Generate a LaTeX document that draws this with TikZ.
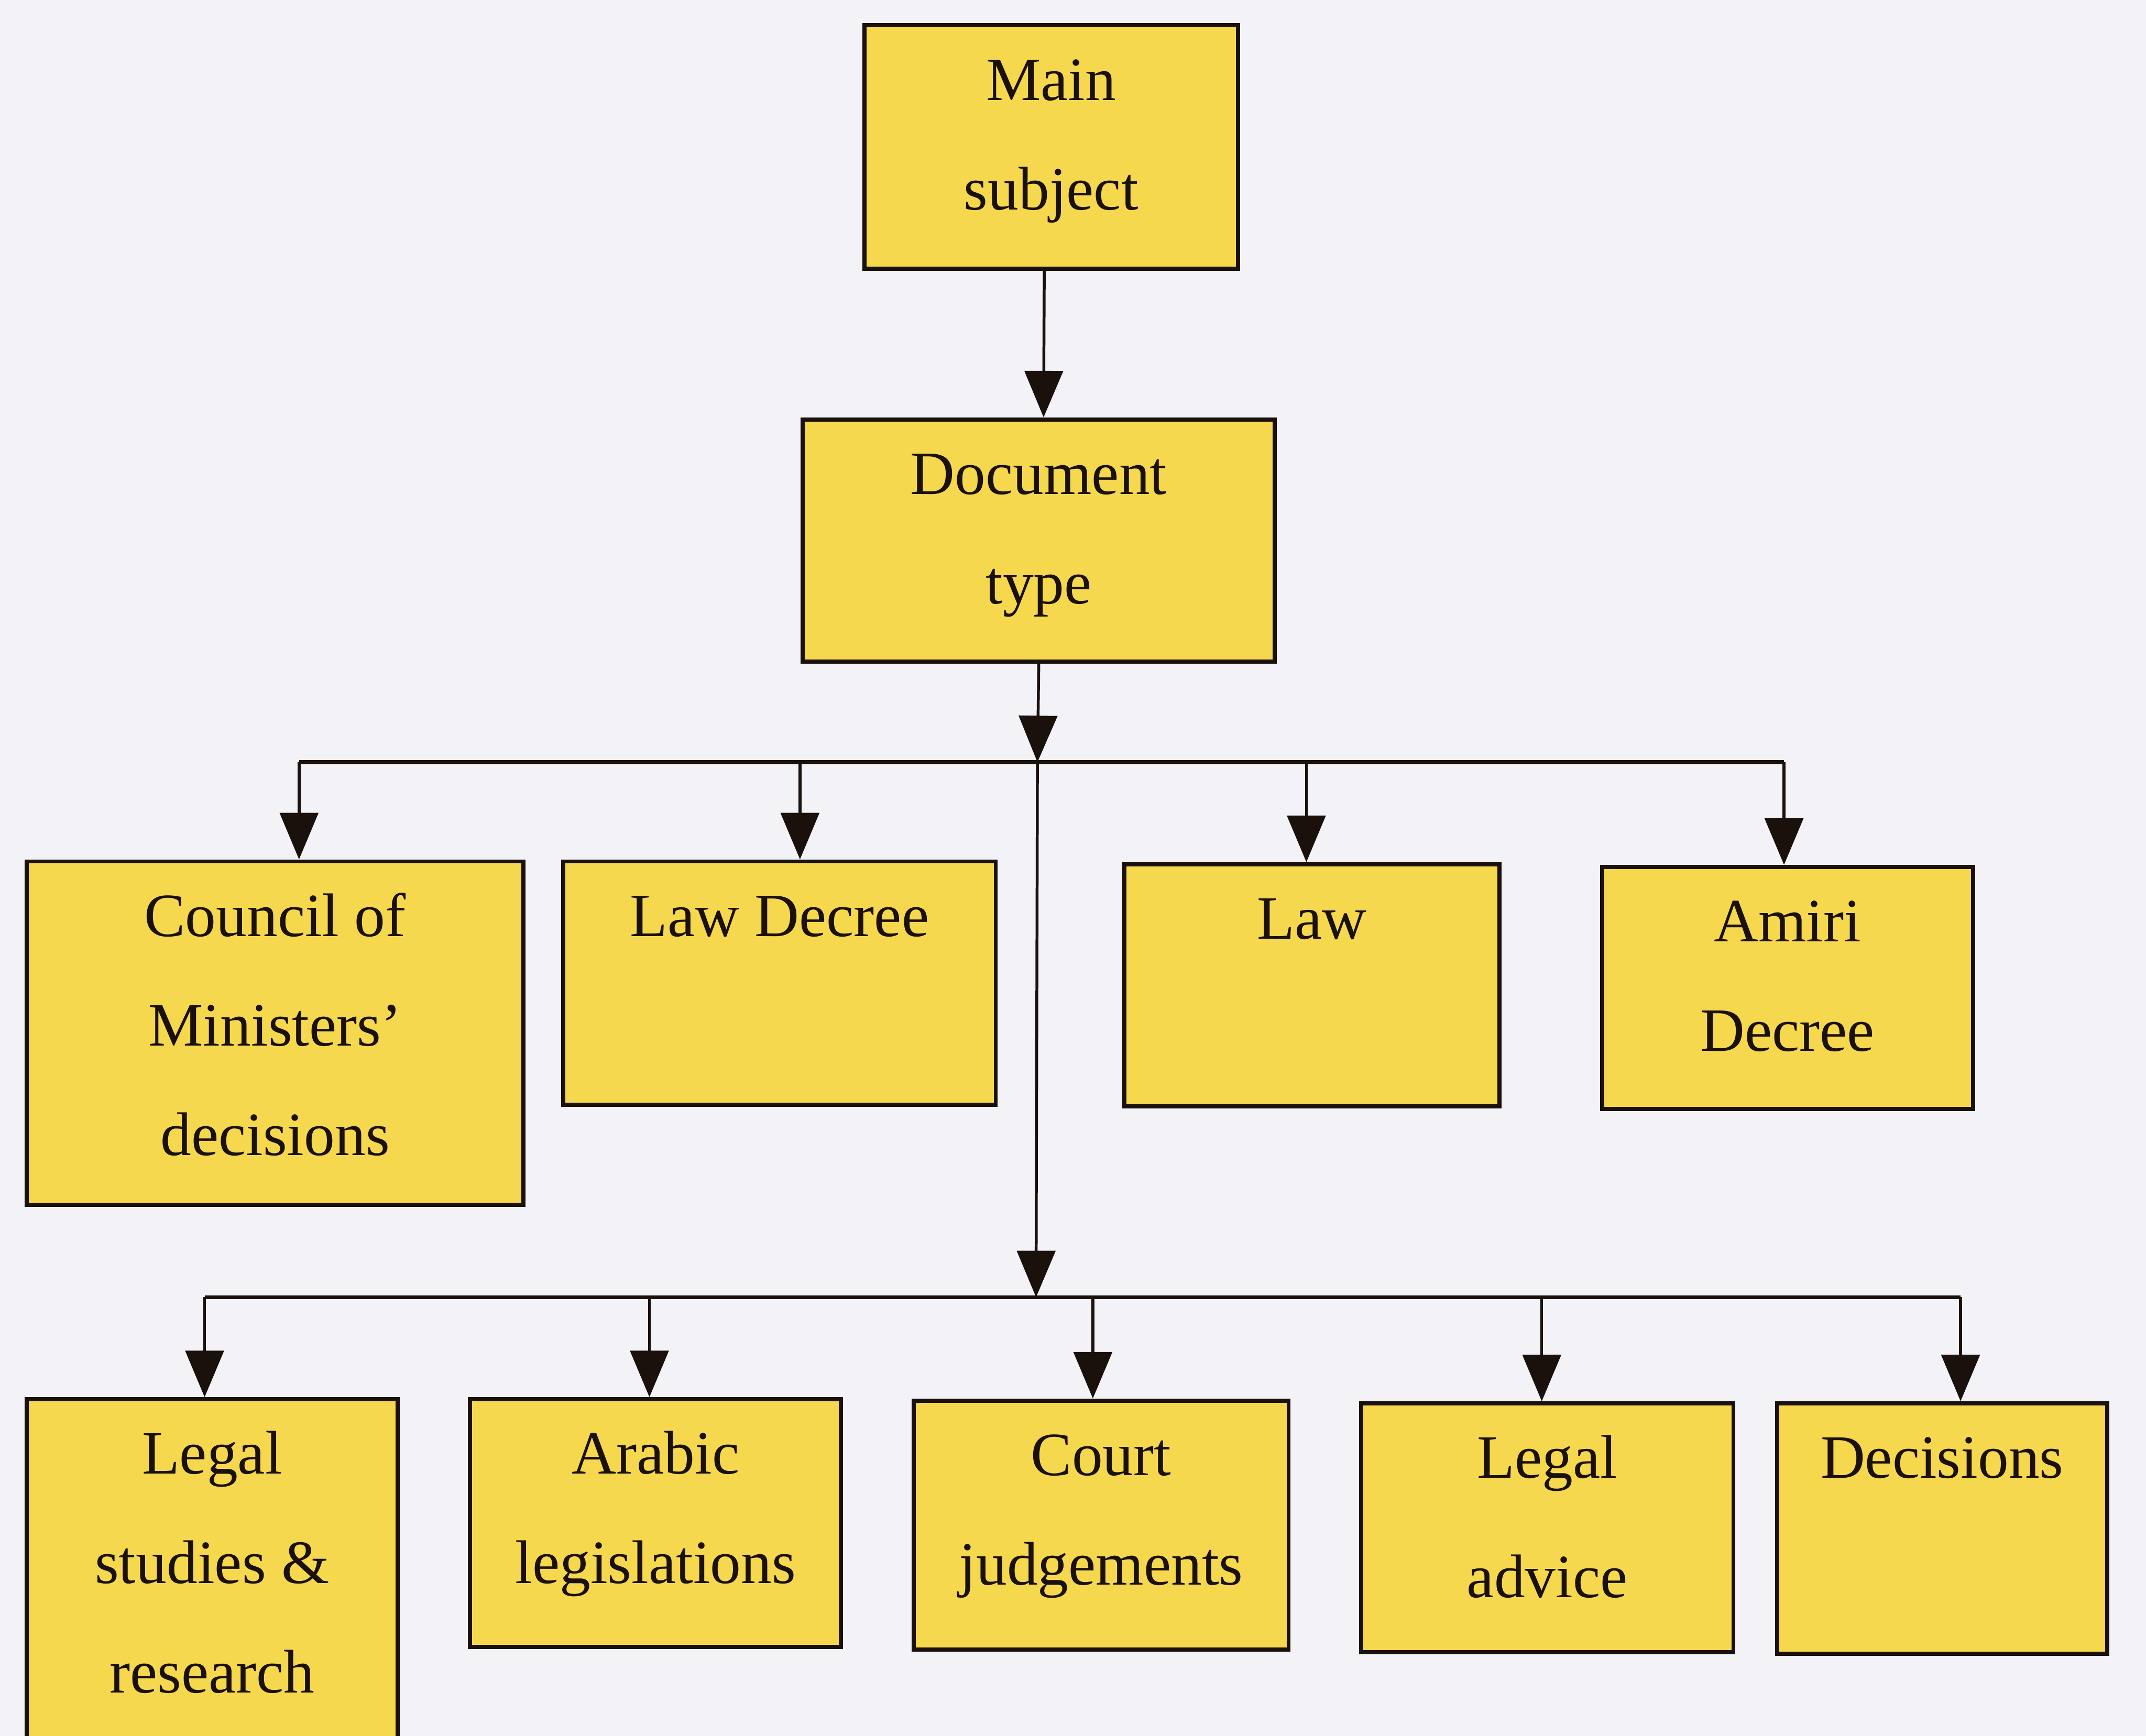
\documentclass[tikz,border=0pt]{standalone}
\usepackage{fontspec}
\setmainfont{Liberation Serif}
\usetikzlibrary{arrows.meta}

\definecolor{paper}{RGB}{243,243,247}
\definecolor{boxfill}{RGB}{246,216,78}
\definecolor{ink}{RGB}{26,16,12}

\tikzset{
  box/.style={draw=ink, line width=3pt, fill=boxfill, rectangle,
    anchor=north west, inner sep=0pt},
  boxtext/.style={anchor=north, inner sep=0pt, align=center, text=ink,
    font=\fontsize{45}{80}\selectfont},
  wire/.style={draw=ink, line width=2.1pt},
  bus/.style={draw=ink, line width=3pt},
  arr/.style={wire, -{Triangle[width=28pt,length=34pt]}},
}

% a box with top-left corner at (#2,#3), size #4 x #5, and centred text #6
\newcommand{\docbox}[6]{%
  \node[box, minimum width=#4pt, minimum height=#5pt] (#1) at (#2,#3) {};
  \node[boxtext] (#1-t) at (#1.north) {\strut #6};
}

\begin{document}
\begin{tikzpicture}[x=1pt,y=-1pt]
  \fill[paper] (0,0) rectangle (1568,1268.5);
  \useasboundingbox (0,0) rectangle (1568,1268.5);
  \clip (0,0) rectangle (1568,1268.5);

  % top of the tree
  \docbox{main}{630}{17}{273}{178}{Main\\subject}
  \docbox{doc}{585}{305}{345}{177}{Document\\type}

  % first row of document types
  \docbox{cm}{18}{628}{363}{251}{Council of\\Ministers'\\decisions}
  \docbox{ld}{410}{628}{316}{178}{Law Decree}
  \docbox{law}{820}{630}{274}{177}{Law}
  \docbox{ad}{1169}{632}{271}{177}{Amiri\\Decree}

  % second row of document types
  \docbox{ls}{18}{1021}{271}{300}{Legal\\studies \&\\research}
  \docbox{al}{342}{1021}{271}{181}{Arabic\\legislations}
  \docbox{cj}{666}{1022}{274}{182}{Court\\judgements}
  \docbox{la}{993}{1024}{272}{182}{Legal\\[7pt]advice}
  \docbox{de}{1297}{1024}{241}{183}{Decisions}

  % junction points of the two branch lines
  \coordinate (j1) at (758,557);
  \coordinate (j2) at (757,948);

  % trunk
  \draw[arr] ([xshift=-5pt]main.south) -- ([xshift=3.5pt]doc.north);
  \draw[arr] (doc.south) -- (j1);
  \draw[arr] (j1) -- (j2);

  % first branch line and its arrows
  \draw[bus] ([xshift=17.5pt]cm.north |- j1) -- ([xshift=-2.5pt]ad.north |- j1);
  \draw[arr] ([xshift=17.5pt]cm.north |- j1) -- ([xshift=17.5pt]cm.north);
  \draw[arr] ([xshift=15pt]ld.north |- j1) -- ([xshift=15pt]ld.north);
  \draw[arr] ([xshift=-4pt]law.north |- j1) -- ([xshift=-4pt]law.north);
  \draw[arr] ([xshift=-2.5pt]ad.north |- j1) -- ([xshift=-2.5pt]ad.north);

  % second branch line and its arrows
  \draw[bus] ([xshift=-5.5pt]ls.north |- j2) -- ([xshift=13.5pt]de.north |- j2);
  \draw[arr] ([xshift=-5.5pt]ls.north |- j2) -- ([xshift=-5.5pt]ls.north);
  \draw[arr] ([xshift=-4.5pt]al.north |- j2) -- ([xshift=-4.5pt]al.north);
  \draw[arr] ([xshift=-6pt]cj.north |- j2) -- ([xshift=-6pt]cj.north);
  \draw[arr] ([xshift=-4pt]la.north |- j2) -- ([xshift=-4pt]la.north);
  \draw[arr] ([xshift=13.5pt]de.north |- j2) -- ([xshift=13.5pt]de.north);
\end{tikzpicture}
\end{document}
